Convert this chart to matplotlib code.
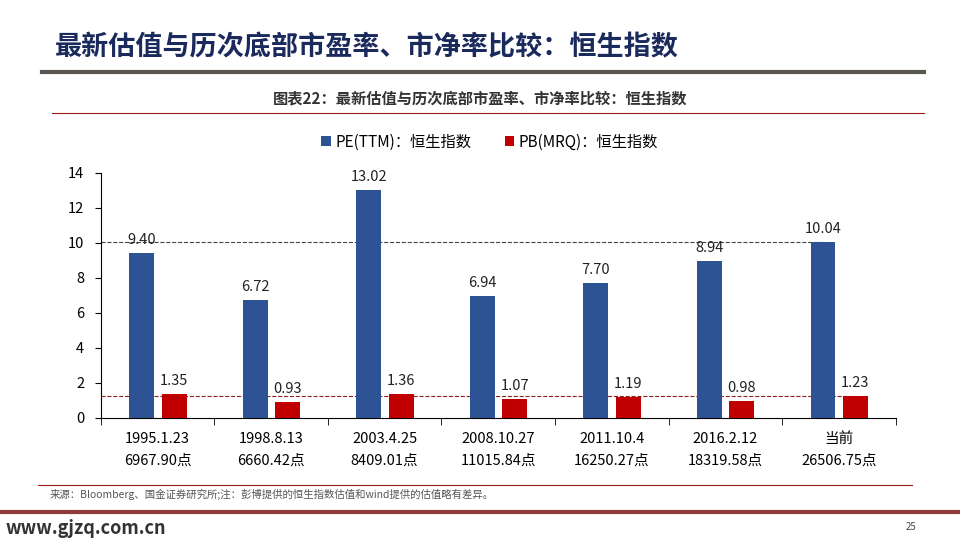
import numpy as np
from matplotlib import pyplot as plt

plt.rcParams['font.family'] = ['Noto Sans CJK SC', 'DejaVu Sans']
plt.rcParams['axes.unicode_minus'] = False

dates = ["1995.1.23", "1998.8.13", "2003.4.25", "2008.10.27", "2011.10.4", "2016.2.12", "当前"]
points = ["6967.90点", "6660.42点", "8409.01点", "11015.84点", "16250.27点", "18319.58点", "26506.75点"]
pe = [9.40, 6.72, 13.02, 6.94, 7.70, 8.94, 10.04]
pb = [1.35, 0.93, 1.36, 1.07, 1.19, 0.98, 1.23]

blue = "#2E5395"
red = "#C00000"

fig = plt.figure(figsize=(9.6, 5.4), dpi=100)

# 标题和分隔线
fig.text(0.057, 0.912, "最新估值与历次底部市盈率、市净率比较：恒生指数",
         fontsize=19.5, fontweight="heavy", color="#1B2A5C", va="center")
fig.add_artist(plt.Line2D([0.044, 0.963], [0.866, 0.866], color="#5B5550", lw=3))
fig.text(0.5, 0.818, "图表22：最新估值与历次底部市盈率、市净率比较：恒生指数",
         fontsize=11, fontweight="bold", color="#333333", ha="center", va="center")
fig.add_artist(plt.Line2D([0.054, 0.963], [0.791, 0.791], color="#9B1B1B", lw=0.8))

ax = fig.add_axes([0.105, 0.226, 0.828, 0.454])
x = np.arange(len(dates))
w = 0.22
b1 = ax.bar(x - 0.14, pe, w, color=blue, zorder=3, label="PE(TTM)：恒生指数")
b2 = ax.bar(x + 0.145, pb, w, color=red, zorder=3, label="PB(MRQ)：恒生指数")

# 当前值参考线
ax.plot([-0.5, x[-1] - 0.14], [pe[-1], pe[-1]], ls="--", color="#444444", lw=0.8, zorder=2)
ax.plot([-0.5, x[-1] + 0.145], [pb[-1], pb[-1]], ls="--", color="#8B2222", lw=0.8, zorder=2)

for rect, v in zip(b1, pe):
    ax.text(rect.get_x() + rect.get_width() / 2, v + 0.35, f"{v:.2f}",
            ha="center", va="bottom", fontsize=10.5, color="#222222")
for rect, v in zip(b2, pb):
    ax.text(rect.get_x() + rect.get_width() / 2, v + 0.35, f"{v:.2f}",
            ha="center", va="bottom", fontsize=10.5, color="#222222")

ax.set_xlim(-0.5, len(dates) - 0.5)
ax.set_ylim(0, 14)
ax.set_yticks(range(0, 15, 2))
ax.set_xticks(x)
ax.set_xticklabels([d + "\n" + p for d, p in zip(dates, points)], fontsize=10.5, linespacing=1.7)
ax.set_xticks(np.arange(-0.5, len(dates)), minor=True)
ax.tick_params(axis="x", which="major", length=0, pad=10)
ax.tick_params(axis="x", which="minor", length=5, direction="out")
ax.tick_params(axis="y", labelsize=10.5, length=4, pad=8)
for s in ["top", "right"]:
    ax.spines[s].set_visible(False)

fig.legend(handles=[b1, b2], loc="center", bbox_to_anchor=(0.51, 0.737), ncol=2,
           frameon=False, fontsize=11, handlelength=0.6, handleheight=0.6,
           handletextpad=0.3, columnspacing=2.2)

# 底部
fig.add_artist(plt.Line2D([0.04, 0.95], [0.102, 0.102], color="#9B1B1B", lw=0.8))
fig.text(0.052, 0.085, "来源：Bloomberg、国金证券研究所;注：彭博提供的恒生指数估值和wind提供的估值略有差异。",
         fontsize=7.5, style="italic", color="#555555", va="center")
fig.add_artist(plt.Line2D([0, 1], [0.052, 0.052], color="#8E3B3B", lw=3))
fig.text(0.006, 0.022, "www.gjzq.com.cn", fontsize=13, fontweight="bold", color="#333333", va="center")
fig.text(0.955, 0.025, "25", fontsize=7, color="#444444", ha="right", va="center")

plt.savefig("out.png", dpi=100)
